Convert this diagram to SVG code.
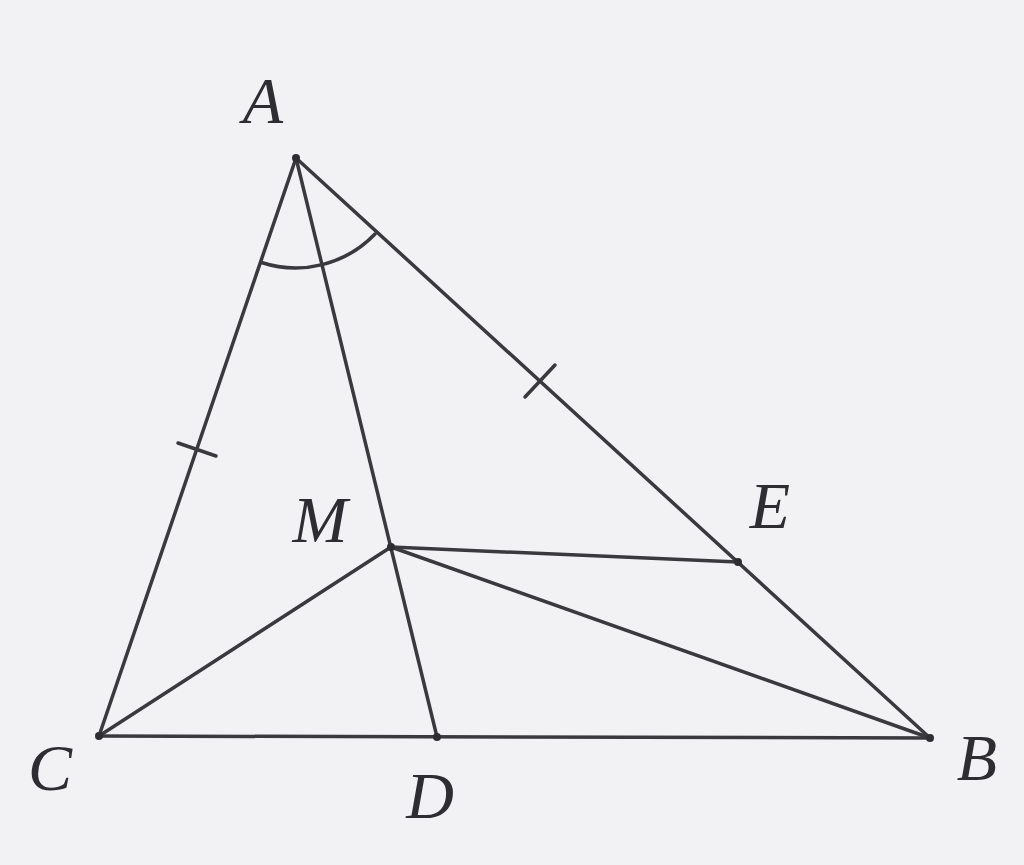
<svg xmlns="http://www.w3.org/2000/svg" width="1024" height="865" viewBox="0 0 1024 865">
<style>
.l{stroke:#3a3a3e;stroke-width:3.5;fill:none;stroke-linecap:round}
.t{font-family:"Liberation Serif",serif;font-style:italic;font-size:66px;fill:#2e2e32;text-anchor:middle}
.p{fill:#2e2e32}
</style>
<rect width="1024" height="865" fill="#f2f2f5"/>
<g id="connectors">
<line class="l" x1="296" y1="158" x2="99" y2="736"/>
<line class="l" x1="296" y1="158" x2="930" y2="738"/>
<line class="l" x1="99" y1="736" x2="930" y2="738"/>
<line class="l" x1="296" y1="158" x2="437" y2="737"/>
<line class="l" x1="391" y1="547" x2="738" y2="562"/>
<line class="l" x1="391" y1="547" x2="99" y2="736"/>
<line class="l" x1="391" y1="547" x2="930" y2="738"/>
<path class="l" d="M261.5 262.5 A110 110 0 0 0 375 234"/>
<line class="l" x1="178" y1="443" x2="216" y2="456"/>
<line class="l" x1="525" y1="397" x2="555" y2="365"/>
</g>
<g id="A"><circle class="p" cx="296" cy="158" r="4"/><text class="t" x="263" y="123">A</text></g>
<g id="M"><circle class="p" cx="391" cy="547" r="4"/><text class="t" x="320" y="542">M</text></g>
<g id="E"><circle class="p" cx="738" cy="562" r="4"/><text class="t" x="770" y="528">E</text></g>
<g id="C"><circle class="p" cx="99" cy="736" r="4"/><text class="t" x="50" y="790">C</text></g>
<g id="D"><circle class="p" cx="437" cy="737" r="4"/><text class="t" x="430" y="818">D</text></g>
<g id="B"><circle class="p" cx="930" cy="738" r="4"/><text class="t" x="977" y="780">B</text></g>
</svg>
